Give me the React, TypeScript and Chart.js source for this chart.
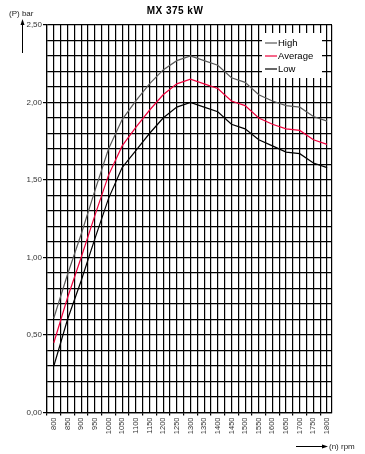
import { useEffect, useRef } from "react";
import { Chart, registerables } from "chart.js";

Chart.register(...registerables);

const rpm = [800, 850, 900, 950, 1000, 1050, 1100, 1150, 1200, 1250, 1300, 1350, 1400, 1450, 1500, 1550, 1600, 1650, 1700, 1750, 1800];
const high = [0.61, 0.89, 1.15, 1.43, 1.70, 1.89, 2.01, 2.12, 2.21, 2.27, 2.30, 2.27, 2.24, 2.16, 2.13, 2.05, 2.01, 1.98, 1.97, 1.91, 1.88];
const average = [0.45, 0.74, 1.00, 1.27, 1.53, 1.72, 1.84, 1.95, 2.05, 2.12, 2.15, 2.12, 2.09, 2.01, 1.98, 1.90, 1.86, 1.83, 1.82, 1.76, 1.73];
const low = [0.30, 0.60, 0.85, 1.12, 1.38, 1.58, 1.69, 1.80, 1.90, 1.97, 2.00, 1.97, 1.94, 1.86, 1.83, 1.76, 1.72, 1.68, 1.67, 1.61, 1.58];
const seriesNames = ["High", "Average", "Low"];
const seriesColors = ["#5a5a5a", "#f0003c", "#000000"];
const titleText = "MX 375 kW";
const yTitle = "(P) bar";
const xTitle = "(n) rpm";
const xMin = 775;
const xMax = 1818;
const xGridStep = 25;
const xLabelFirst = 800;
const xLabelLast = 1800;
const yMax = 2.5;

const FONT = '"Liberation Sans", Arial, sans-serif';

const decorPlugin = {
  id: "decor",
  afterDatasetsDraw(chart: any) {
    const ctx = chart.ctx;
    ctx.save();
    ctx.fillStyle = "#ffffff";
    ctx.fillRect(262, 33, 60, 45);
    chart.data.datasets.forEach((ds: any, i: number) => {
      const y = 43 + i * 13;
      ctx.strokeStyle = ds.borderColor;
      ctx.lineWidth = 1.2;
      ctx.beginPath();
      ctx.moveTo(265, y);
      ctx.lineTo(277, y);
      ctx.stroke();
      ctx.fillStyle = "#000";
      ctx.font = `9.5px ${FONT}`;
      ctx.textBaseline = "middle";
      ctx.textAlign = "left";
      ctx.fillText(ds.label, 278, y + 0.5);
    });
    ctx.restore();
  },
  afterDraw(chart: any) {
    const ctx = chart.ctx;
    ctx.save();
    ctx.fillStyle = "#000";
    ctx.font = `bold 10px ${FONT}`;
    ctx.textAlign = "center";
    ctx.textBaseline = "alphabetic";
    (ctx as any).letterSpacing = "0.5px";
    ctx.fillText(titleText, 175, 14);
    (ctx as any).letterSpacing = "0px";
    ctx.font = `8px ${FONT}`;
    ctx.fillStyle = "#222";
    ctx.textAlign = "left";
    ctx.fillText(yTitle, 9, 16);
    ctx.strokeStyle = "#000";
    ctx.lineWidth = 1;
    ctx.beginPath();
    ctx.moveTo(22.5, 53);
    ctx.lineTo(22.5, 22);
    ctx.stroke();
    ctx.fillStyle = "#000";
    ctx.beginPath();
    ctx.moveTo(22.5, 19);
    ctx.lineTo(20.5, 25);
    ctx.lineTo(24.5, 25);
    ctx.closePath();
    ctx.fill();
    ctx.beginPath();
    ctx.moveTo(296, 446.5);
    ctx.lineTo(324, 446.5);
    ctx.stroke();
    ctx.beginPath();
    ctx.moveTo(328, 446.5);
    ctx.lineTo(322, 444.5);
    ctx.lineTo(322, 448.5);
    ctx.closePath();
    ctx.fill();
    ctx.fillStyle = "#222";
    ctx.font = `8px ${FONT}`;
    ctx.textBaseline = "middle";
    ctx.fillText(xTitle, 329, 446.5);
    ctx.restore();
  },
};

export default function App() {
  const ref = useRef<HTMLCanvasElement | null>(null);
  useEffect(() => {
    if (!ref.current) return;
    const series = [high, average, low];
    const chart = new Chart(ref.current, {
      type: "line",
      data: {
        datasets: series.map((s, i) => ({
          label: seriesNames[i],
          data: rpm.map((x, j) => ({ x, y: s[j] })),
          borderColor: seriesColors[i],
          backgroundColor: seriesColors[i],
          borderWidth: 1.2,
          pointRadius: 0,
          tension: 0,
          fill: false,
        })),
      },
      options: {
        animation: false,
        responsive: false,
        devicePixelRatio: 1,
        layout: { padding: { left: 0, top: 25, right: 33, bottom: 0 } },
        plugins: { legend: { display: false }, title: { display: false }, tooltip: { enabled: false } },
        scales: {
          x: {
            type: "linear",
            min: xMin,
            max: xMax,
            afterFit: (s: any) => { s.height = 41.5; },
            afterBuildTicks: (s: any) => {
              const t: any[] = [];
              for (let v = xMin; v <= xLabelLast; v += xGridStep) t.push({ value: v });
              t.push({ value: xMax });
              s.ticks = t;
            },
            ticks: {
              autoSkip: false,
              minRotation: 90,
              maxRotation: 90,
              padding: 2,
              color: "#333",
              font: { family: FONT, size: 7.5 },
              callback: (v: any) => {
                const n = Number(v);
                return n % 50 === 0 && n >= xLabelFirst && n <= xLabelLast ? String(n) : "";
              },
            },
            grid: {
              color: "#000",
              lineWidth: 1.2,
              tickLength: 3,
              tickColor: (c: any) => {
                const n = c.tick ? Number(c.tick.value) : 0;
                return (n - xMin) % 50 === 0 && n < xLabelLast ? "#000" : "rgba(0,0,0,0)";
              },
            },
            border: { color: "#000", width: 1.2 },
          },
          y: {
            type: "linear",
            min: 0,
            max: yMax,
            afterFit: (s: any) => { s.width = 47; },
            ticks: {
              stepSize: 0.1,
              autoSkip: false,
              padding: 1,
              color: "#333",
              font: { family: FONT, size: 8 },
              callback: (v: any) => {
                const n = Number(v);
                return Math.abs(n * 2 - Math.round(n * 2)) < 1e-6 ? n.toFixed(2).replace(".", ",") : "";
              },
            },
            grid: {
              color: "#000",
              lineWidth: 1.2,
              tickLength: 4,
              tickColor: (c: any) => {
                const n = c.tick ? Number(c.tick.value) : 0.05;
                return Math.abs(n * 2 - Math.round(n * 2)) < 1e-6 ? "#000" : "rgba(0,0,0,0)";
              },
            },
            border: { color: "#000", width: 1.2 },
          },
        },
      },
      plugins: [decorPlugin],
    } as any);
    return () => chart.destroy();
  }, []);
  return (
    <div style={{ position: "absolute", left: 0, top: 0, width: 365, height: 454, background: "#fff" }}>
      <canvas ref={ref} width={365} height={454} style={{ width: 365, height: 454, display: "block" }} />
    </div>
  );
}
